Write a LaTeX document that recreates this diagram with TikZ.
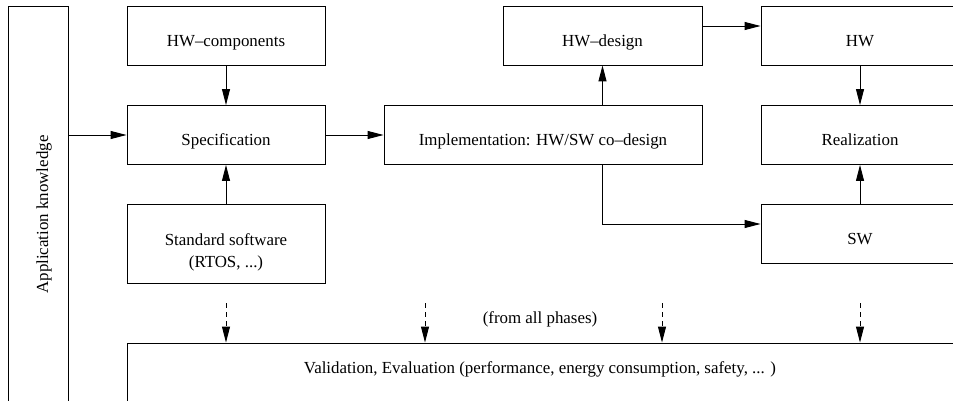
\documentclass[tikz,border=0pt]{standalone}
\usepackage{fontspec}
\setmainfont{Liberation Serif}
\usepackage{tikz}
\usetikzlibrary{arrows.meta, calc}
\tikzset{
    block/.style={draw, line width=0.9pt, minimum width=198pt, minimum height=59pt, inner sep=0pt, align=center, text height=23pt, text depth=1pt, font=\fontsize{16.9}{22.7}\selectfont},
    flow/.style={-{Triangle[length=16pt, width=8pt]}, line width=0.9pt},
    phase/.style={-{Triangle[length=16pt, width=8pt]}, line width=0.9pt, dash pattern=on 5pt off 4pt},
    plain/.style={inner sep=0pt, font=\fontsize{16.9}{22.7}\selectfont}
}
\begin{document}
\begin{tikzpicture}[x=1pt, y=-1pt]
    \clip (0,0) rectangle (953,401);
    \fill[white] (0,0) rectangle (953,401);
    % Linke Spalte
    \node[block, minimum width=60pt, minimum height=398pt] (know) at (38,205) {};
    \node[plain, rotate=90] (knowtxt) at (44,214.5) {Application knowledge};
    \node[block] (hwc) at (226,35.5) {HW--components};
    \node[block] (spec) at (226,135) {Specification};
    \node[block, minimum height=79pt, text height=48.8pt] (stdsw) at (226,243.8) {Standard software\\(RTOS, ...)};
    % Mitte
    \node[block, minimum width=318pt] (impl) at (543,135) {Implementation: HW/SW co--design};
    \node[block, minimum width=199pt] (hwd) at (602.5,35.5) {HW--design};
    % Rechts
    \node[block] (hw) at (860,35.5) {HW};
    \node[block] (real) at (860,135) {Realization};
    \node[block] (sw) at (860,233.5) {SW};
    % Unten
    \node[block, minimum width=826pt, minimum height=70pt, text height=5pt, text depth=14.4pt] (valid) at (540,378) {Validation, Evaluation (performance, energy consumption, safety, ... )};
    \node[plain, anchor=base] (phases) at (540,323.3) {(from all phases)};

    \draw[flow] (know.east |- spec.west) -- (spec.west);
    \draw[flow] (hwc.south) -- (spec.north);
    \draw[flow] (stdsw.north) -- (spec.south);
    \draw[flow] (spec.east) -- (impl.west);
    \draw[flow] (impl.north -| hwd.south) -- (hwd.south);
    \draw[flow] ([yshift=9.5pt]hwd.east) -- ([yshift=9.5pt]hwd.east -| hw.west);
    \draw[flow] (hw.south) -- (real.north);
    \draw[flow] (sw.north) -- (real.south);
    \draw[flow] (impl.south -| hwd.south) |- ([yshift=9.5pt]sw.west);
    % gestrichelte Pfeile
    \foreach \x [count=\i] in {226,425,662,860} {
        \coordinate (d\i) at (\x,303);
        \draw[phase] (d\i) -- (d\i |- valid.north);
    }
\end{tikzpicture}
\end{document}
